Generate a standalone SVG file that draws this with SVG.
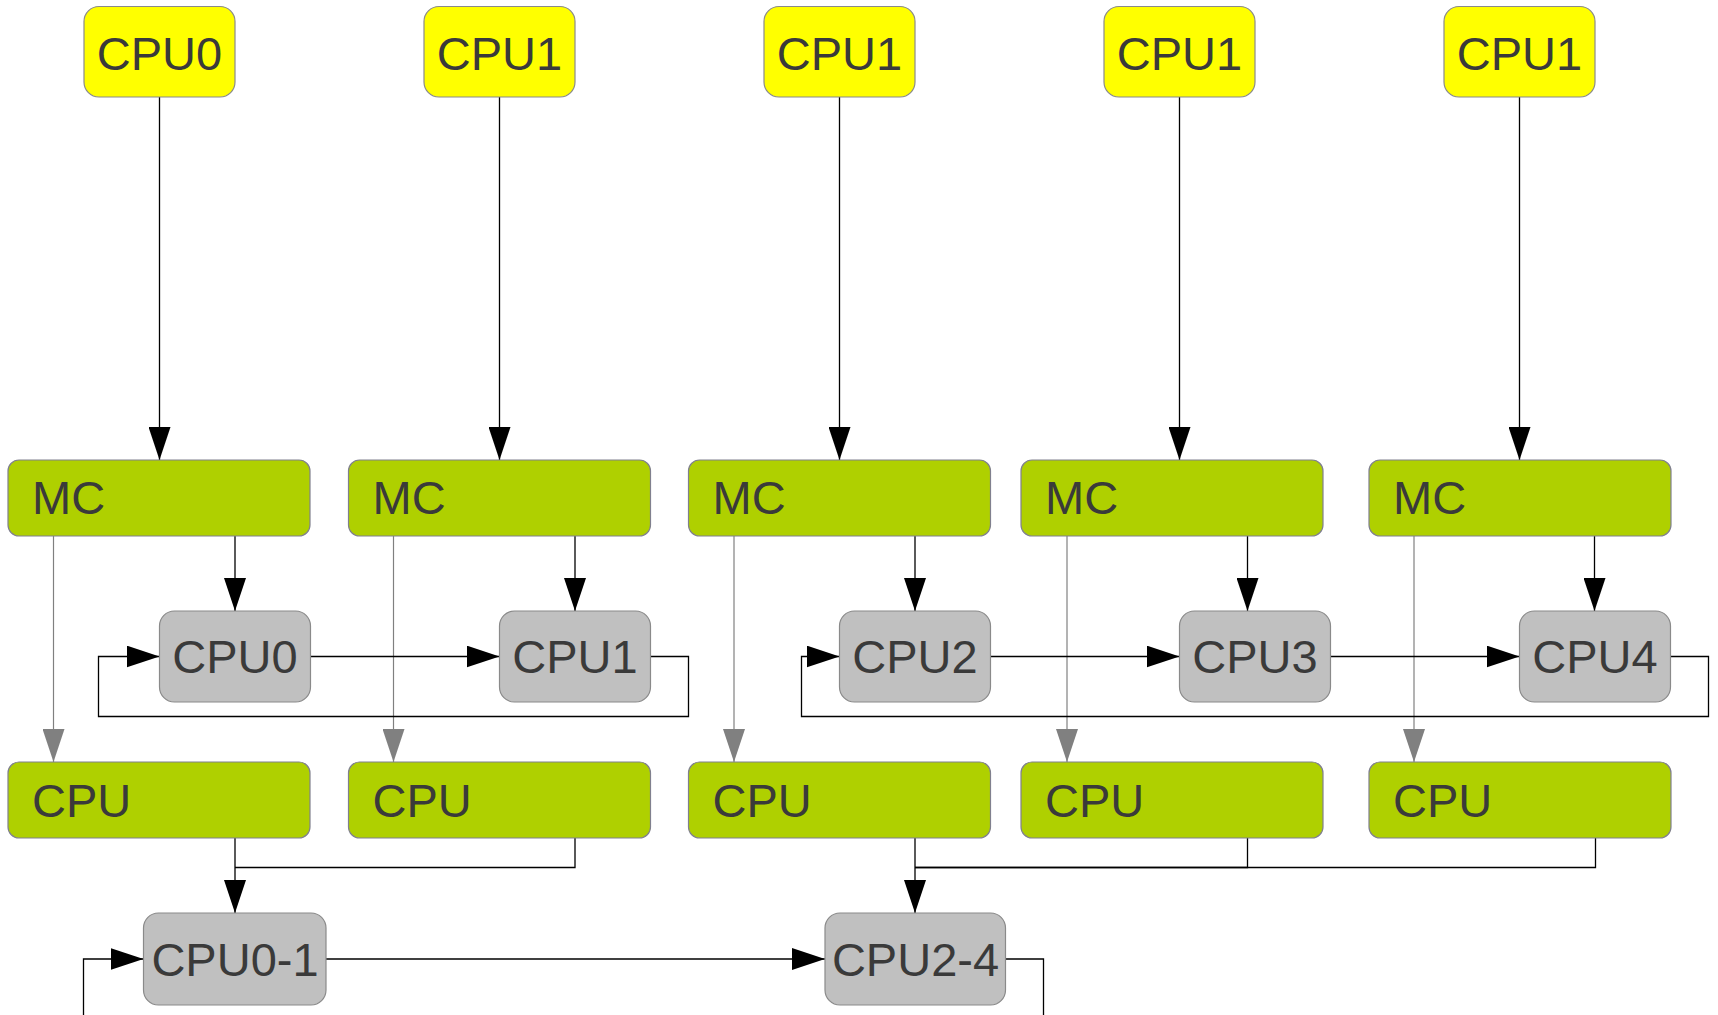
<svg xmlns="http://www.w3.org/2000/svg" width="1718" height="1015" viewBox="0 0 1718 1015">
  <style>
    .yel { fill: #ffff00; stroke: #8a8a8a; stroke-width: 1.2; }
    .grn { fill: #afd000; stroke: #80808e; stroke-width: 1.2; }
    .gry { fill: #c0c0c0; stroke: #8a8a8a; stroke-width: 1.2; }
    text { font-family: "Liberation Sans", Arial, sans-serif; font-size: 47px; fill: #3a3a3a; }
    .c { text-anchor: middle; }
    .blk { fill: none; stroke: #000000; stroke-width: 1.3; }
    .gln { fill: none; stroke: #808080; stroke-width: 1.2; }
  </style>
  <defs>
    <marker id="ah" viewBox="0 0 33 22" markerWidth="33" markerHeight="22" refX="33" refY="11" orient="auto" markerUnits="userSpaceOnUse">
      <path d="M0,0 L33,11 L0,22 Z" fill="#000000"/>
    </marker>
    <marker id="ahg" viewBox="0 0 33 22" markerWidth="33" markerHeight="22" refX="33" refY="11" orient="auto" markerUnits="userSpaceOnUse">
      <path d="M0,0 L33,11 L0,22 Z" fill="#808080"/>
    </marker>
  </defs>
  <rect width="1718" height="1015" fill="#ffffff"/>

  <!-- connectors -->
  <g id="connectors">
    <!-- top CPUs to MCs -->
    <line class="blk" x1="159.5" y1="97" x2="159.5" y2="460" marker-end="url(#ah)"/>
    <line class="blk" x1="499.5" y1="97" x2="499.5" y2="460" marker-end="url(#ah)"/>
    <line class="blk" x1="839.5" y1="97" x2="839.5" y2="460" marker-end="url(#ah)"/>
    <line class="blk" x1="1179.5" y1="97" x2="1179.5" y2="460" marker-end="url(#ah)"/>
    <line class="blk" x1="1519.5" y1="97" x2="1519.5" y2="460" marker-end="url(#ah)"/>
    <!-- MCs to per-core CPUs -->
    <line class="blk" x1="235" y1="536" x2="235" y2="611" marker-end="url(#ah)"/>
    <line class="blk" x1="575" y1="536" x2="575" y2="611" marker-end="url(#ah)"/>
    <line class="blk" x1="915" y1="536" x2="915" y2="611" marker-end="url(#ah)"/>
    <line class="blk" x1="1247.5" y1="536" x2="1247.5" y2="611" marker-end="url(#ah)"/>
    <line class="blk" x1="1594.5" y1="536" x2="1594.5" y2="611" marker-end="url(#ah)"/>
    <!-- MCs to CPU bars (grey) -->
    <line class="gln" x1="53.5" y1="536" x2="53.5" y2="762" marker-end="url(#ahg)"/>
    <line class="gln" x1="393.5" y1="536" x2="393.5" y2="762" marker-end="url(#ahg)"/>
    <line class="gln" x1="734" y1="536" x2="734" y2="762" marker-end="url(#ahg)"/>
    <line class="gln" x1="1067" y1="536" x2="1067" y2="762" marker-end="url(#ahg)"/>
    <line class="gln" x1="1414" y1="536" x2="1414" y2="762" marker-end="url(#ahg)"/>
    <!-- ring CPU0 / CPU1 -->
    <line class="blk" x1="310" y1="656.5" x2="499.5" y2="656.5" marker-end="url(#ah)"/>
    <polyline class="blk" points="650.5,656.5 688.5,656.5 688.5,716.5 98.5,716.5 98.5,656.5 159.5,656.5" marker-end="url(#ah)"/>
    <!-- ring CPU2 / CPU3 / CPU4 -->
    <line class="blk" x1="990.5" y1="656.5" x2="1179.5" y2="656.5" marker-end="url(#ah)"/>
    <line class="blk" x1="1330" y1="656.5" x2="1519.5" y2="656.5" marker-end="url(#ah)"/>
    <polyline class="blk" points="1670.5,656.5 1708.5,656.5 1708.5,716.5 801.5,716.5 801.5,656.5 839.5,656.5" marker-end="url(#ah)"/>
    <!-- CPU bars to groups -->
    <line class="blk" x1="235" y1="838" x2="235" y2="913" marker-end="url(#ah)"/>
    <polyline class="blk" points="575,838 575,867.5 235,867.5"/>
    <line class="blk" x1="915" y1="838" x2="915" y2="913" marker-end="url(#ah)"/>
    <polyline class="blk" points="1247.5,838 1247.5,867.5 915,867.5"/>
    <polyline class="blk" points="1595.5,838 1595.5,867.5 915,867.5"/>
    <!-- ring CPU0-1 / CPU2-4 -->
    <line class="blk" x1="326" y1="959" x2="825" y2="959" marker-end="url(#ah)"/>
    <polyline class="blk" points="83.5,1015 83.5,959 143.5,959" marker-end="url(#ah)"/>
    <polyline class="blk" points="1005.5,959 1043.5,959 1043.5,1015"/>
  </g>

  <!-- top level CPUs -->
  <g id="top0"><rect class="yel" x="84" y="6.5" width="151" height="90.5" rx="15"/><text class="c" x="159.5" y="70">CPU0</text></g>
  <g id="top1"><rect class="yel" x="424" y="6.5" width="151" height="90.5" rx="15"/><text class="c" x="499.5" y="70">CPU1</text></g>
  <g id="top2"><rect class="yel" x="764" y="6.5" width="151" height="90.5" rx="15"/><text class="c" x="839.5" y="70">CPU1</text></g>
  <g id="top3"><rect class="yel" x="1104" y="6.5" width="151" height="90.5" rx="15"/><text class="c" x="1179.5" y="70">CPU1</text></g>
  <g id="top4"><rect class="yel" x="1444" y="6.5" width="151" height="90.5" rx="15"/><text class="c" x="1519.5" y="70">CPU1</text></g>

  <!-- MC bars -->
  <g id="mc0"><rect class="grn" x="8" y="460" width="302" height="76" rx="11"/><text x="32" y="514">MC</text></g>
  <g id="mc1"><rect class="grn" x="348.5" y="460" width="302" height="76" rx="11"/><text x="372.5" y="514">MC</text></g>
  <g id="mc2"><rect class="grn" x="688.5" y="460" width="302" height="76" rx="11"/><text x="712.5" y="514">MC</text></g>
  <g id="mc3"><rect class="grn" x="1021" y="460" width="302" height="76" rx="11"/><text x="1045" y="514">MC</text></g>
  <g id="mc4"><rect class="grn" x="1369" y="460" width="302" height="76" rx="11"/><text x="1393" y="514">MC</text></g>

  <!-- per-core CPUs -->
  <g id="core0"><rect class="gry" x="159.5" y="611" width="151" height="91" rx="15"/><text class="c" x="235" y="673">CPU0</text></g>
  <g id="core1"><rect class="gry" x="499.5" y="611" width="151" height="91" rx="15"/><text class="c" x="575" y="673">CPU1</text></g>
  <g id="core2"><rect class="gry" x="839.5" y="611" width="151" height="91" rx="15"/><text class="c" x="915" y="673">CPU2</text></g>
  <g id="core3"><rect class="gry" x="1179.5" y="611" width="151" height="91" rx="15"/><text class="c" x="1255" y="673">CPU3</text></g>
  <g id="core4"><rect class="gry" x="1519.5" y="611" width="151" height="91" rx="15"/><text class="c" x="1595" y="673">CPU4</text></g>

  <!-- CPU bars -->
  <g id="bar0"><rect class="grn" x="8" y="762" width="302" height="76" rx="11"/><text x="32" y="817">CPU</text></g>
  <g id="bar1"><rect class="grn" x="348.5" y="762" width="302" height="76" rx="11"/><text x="372.5" y="817">CPU</text></g>
  <g id="bar2"><rect class="grn" x="688.5" y="762" width="302" height="76" rx="11"/><text x="712.5" y="817">CPU</text></g>
  <g id="bar3"><rect class="grn" x="1021" y="762" width="302" height="76" rx="11"/><text x="1045" y="817">CPU</text></g>
  <g id="bar4"><rect class="grn" x="1369" y="762" width="302" height="76" rx="11"/><text x="1393" y="817">CPU</text></g>

  <!-- groups -->
  <g id="grp01"><rect class="gry" x="143.5" y="913" width="182.5" height="92" rx="15"/><text class="c" x="235" y="975.5">CPU0-1</text></g>
  <g id="grp24"><rect class="gry" x="825" y="913" width="180.5" height="92" rx="15"/><text class="c" x="915.5" y="975.5">CPU2-4</text></g>
</svg>
